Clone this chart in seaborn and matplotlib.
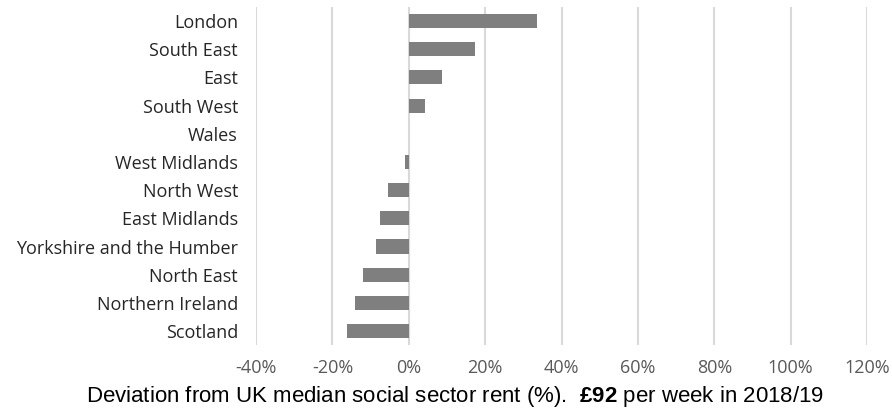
import numpy as np
import pandas as pd
import matplotlib
matplotlib.use("Agg")
import matplotlib.pyplot as plt
import seaborn as sns
from matplotlib.ticker import FuncFormatter

regions = ["London", "South East", "East", "South West", "Wales", "West Midlands",
           "North West", "East Midlands", "Yorkshire and the Humber", "North East",
           "Northern Ireland", "Scotland"]
deviation = [33.5, 17.3, 8.6, 4.2, 0.0, -1.1, -5.4, -7.5, -8.7, -11.9, -14.1, -16.2]

df = pd.DataFrame({"region": regions, "deviation": deviation})

sns.set_theme(style="white")
plt.rcParams["font.family"] = ["Open Sans", "DejaVu Sans"]
plt.rcParams["mathtext.fontset"] = "custom"
plt.rcParams["mathtext.bf"] = "Liberation Sans:bold"
plt.rcParams["mathtext.rm"] = "Liberation Sans"

fig = plt.figure(figsize=(8.92, 4.09), dpi=100)
ax = fig.add_axes([0.287, 0.156, 0.685, 0.827])

sns.barplot(data=df, x="deviation", y="region", color="#7f7f7f", saturation=1,
            width=0.5, linewidth=0, ax=ax, zorder=3)

ax.set_xlim(-40, 120)
ax.set_xticks(np.arange(-40, 121, 20))
ax.xaxis.set_major_formatter(FuncFormatter(lambda v, p: f"{v:.0f}%"))
ax.grid(axis="x", color="#d9d9d9", linewidth=1.5, zorder=0)
ax.grid(axis="y", visible=False)
for s in ax.spines.values():
    s.set_visible(False)
ax.tick_params(axis="y", length=0, labelsize=13, labelcolor="#262626", pad=13)
ax.tick_params(axis="x", length=0, labelsize=13, labelcolor="#595959", pad=10)
ax.set_ylabel("")
ax.set_xlabel("")

fig.text(455 / 892, 7 / 409,
         "Deviation from UK median social sector rent (%).  $\\bf{£92}$ per week in 2018/19",
         fontsize=16, family="Liberation Sans", color="black",
         ha="center", va="baseline")

fig.savefig("out.png", dpi=100)
